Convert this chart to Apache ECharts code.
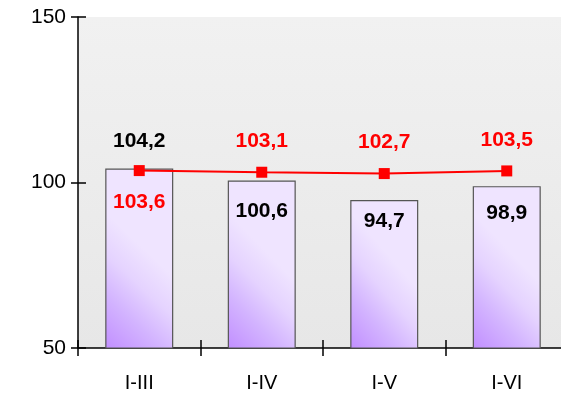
<!DOCTYPE html>
<html><head><meta charset="utf-8">
<script src="https://cdn.jsdelivr.net/npm/echarts@6/dist/echarts.min.js"></script>
<style>html,body{margin:0;padding:0;background:#fff;overflow:hidden}#c{width:590px;height:395px}</style>
</head><body><div id="c"></div>
<script>
const categories = ['I-III', 'I-IV', 'I-V', 'I-VI'];
const barValues = [104.2, 100.6, 94.7, 98.9];
const lineValues = [103.6, 103.1, 102.7, 103.5];
const yTicks = [50, 100, 150];

const fmt = v => String(v).replace('.', ',');
const FONT = '"Liberation Sans", Arial, sans-serif';

// label placement per item (style only)
const barLabelPos = [
  {position: 'top', distance: 17},
  {position: 'insideTop', distance: 20},
  {position: 'insideTop', distance: 11},
  {position: 'insideTop', distance: 17}
];
const lineLabelPos = [
  {position: 'bottom', distance: 16},
  {position: 'top', distance: 15},
  {position: 'top', distance: 15},
  {position: 'top', distance: 15}
];

const chart = echarts.init(document.getElementById('c'), null, {renderer: 'canvas'});
const barGrad = new echarts.graphic.LinearGradient(0, 1, 1, 0.6, [
  {offset: 0, color: '#c18eff'},
  {offset: 0.4, color: '#d3b4ff'},
  {offset: 0.7, color: '#e5d3ff'},
  {offset: 1, color: '#efe4ff'}
]);
const gridBg = new echarts.graphic.LinearGradient(0, 0, 0, 1, [
  {offset: 0, color: '#f1f1f1'},
  {offset: 1, color: '#e7e7e7'}
]);

chart.setOption({
  animation: false,
  grid: {left: 78, top: 17, width: 490, height: 331, show: true, backgroundColor: gridBg, borderWidth: 0},
  xAxis: [{
    type: 'category', data: categories,
    axisLine: {lineStyle: {color: '#000', width: 1.5}},
    axisTick: {show: true, length: 8, lineStyle: {color: '#000', width: 1.5}},
    axisLabel: {color: '#000', fontSize: 20, fontFamily: FONT, margin: 25}
  }, {
    type: 'category', data: categories, position: 'bottom',
    axisLine: {show: false},
    axisTick: {show: true, inside: true, length: 8, lineStyle: {color: '#000', width: 1.5}},
    axisLabel: {show: false}
  }],
  yAxis: [{
    type: 'value', min: 50, max: 150, interval: 50,
    axisLine: {show: true, lineStyle: {color: '#000', width: 1.5}},
    axisTick: {show: true, length: 7, lineStyle: {color: '#000', width: 1.5}},
    splitLine: {show: false},
    axisLabel: {color: '#000', fontSize: 21, fontFamily: FONT, margin: 12,
      formatter: v => yTicks.includes(v) ? String(v) : ''}
  }, {
    type: 'value', min: 50, max: 150, interval: 50, position: 'left',
    axisLine: {show: false},
    axisTick: {show: true, inside: true, length: 8, lineStyle: {color: '#000', width: 1.5}},
    splitLine: {show: false}, axisLabel: {show: false}
  }],
  series: [{
    type: 'bar', xAxisIndex: 0, yAxisIndex: 0,
    barWidth: 68,
    itemStyle: {color: barGrad, borderColor: '#555', borderWidth: 1.2},
    data: barValues.map((v, i) => ({value: v, label: Object.assign({}, barLabelPos[i])})),
    label: {show: true, color: '#000', fontWeight: 'bold', fontSize: 21, fontFamily: FONT,
      formatter: p => fmt(p.value)},
    z: 2
  }, {
    type: 'line', xAxisIndex: 0, yAxisIndex: 0,
    symbol: 'rect', symbolSize: 11,
    lineStyle: {color: '#ff0000', width: 2},
    itemStyle: {color: '#ff0000'},
    data: lineValues.map((v, i) => ({value: v, label: Object.assign({}, lineLabelPos[i])})),
    label: {show: true, color: '#ff0000', fontWeight: 'bold', fontSize: 21, fontFamily: FONT,
      formatter: p => fmt(p.value)},
    z: 3
  }]
});
</script></body></html>
